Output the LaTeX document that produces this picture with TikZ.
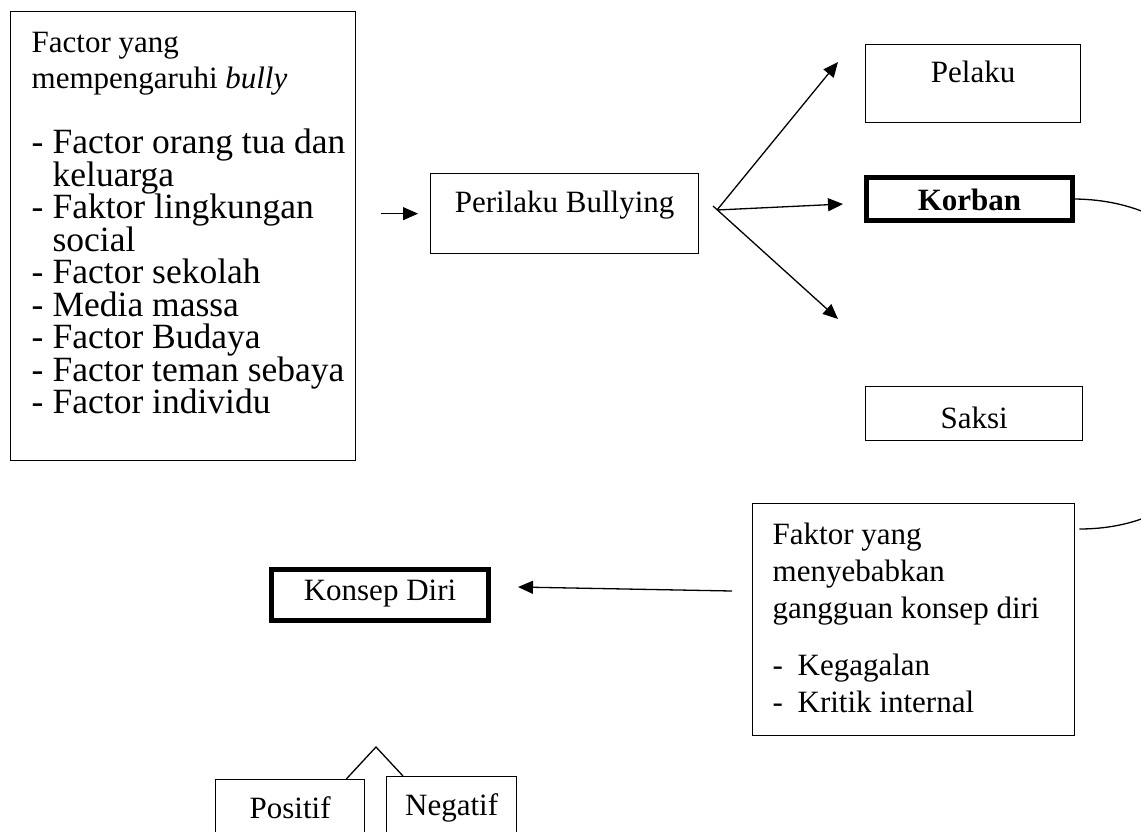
\documentclass[tikz,border=0pt]{standalone}
\usepackage{fontspec}
\setmainfont{Liberation Serif}
\usetikzlibrary{arrows.meta,calc}

\begin{document}
\begin{tikzpicture}[x=1pt,y=-1pt,>={Triangle[length=15pt,width=13pt]},line width=1.3pt,
  every node/.style={font=\fontsize{31}{37}\selectfont}]
\tikzstyle{box}=[draw=black,line width=1.3pt,inner sep=0pt,anchor=north west,align=center]
\tikzstyle{thickbox}=[box,line width=5pt]
\tikzstyle{arrow}=[->,line width=1.3pt]
\useasboundingbox (0,0) rectangle (1141,831);
\clip (0,0) rectangle (1141,831);

% left list of factors
\node[box] (pengaruh) at (10,11) {\parbox[t][449pt][t]{345pt}{\leftskip=21pt
  \baselineskip=36pt
  \rule{0pt}{41pt}Factor yang\\
  mempengaruhi \textit{bully}\par
  \vspace{32.5pt}
  \fontsize{35.5}{32.5}\selectfont
  \makebox[21pt][l]{-}Factor orang tua dan\\
  \hspace*{21pt}keluarga\\
  \makebox[21pt][l]{-}Faktor lingkungan\\
  \hspace*{21pt}social\\
  \makebox[21pt][l]{-}Factor sekolah\\
  \makebox[21pt][l]{-}Media massa\\
  \makebox[21pt][l]{-}Factor Budaya\\
  \makebox[21pt][l]{-}Factor teman sebaya\\
  \makebox[21pt][l]{-}Factor individu\par}};

\node[box,minimum width=268pt,text height=39pt,text depth=41pt] (perilaku) at (430,173) {Perilaku Bullying};

% roles
\node[box,minimum width=215pt,text height=38pt,text depth=40pt] (pelaku) at (865,44) {Pelaku};
\node[thickbox,minimum width=206pt,text height=32.5pt,text depth=10.5pt] (korban) at (864,175) {\textbf{Korban}};
\node[box,minimum width=217pt,text height=42pt,text depth=12pt] (saksi) at (865,386) {Saksi};

% causes of disturbed self concept
\node[box] (gangguan) at (752,503) {\parbox[t][232pt][t]{322pt}{\leftskip=20pt
  \baselineskip=37pt
  \rule{0pt}{41pt}Faktor yang\\
  menyebabkan\\
  gangguan konsep diri\par
  \vspace{20pt}
  \makebox[25pt][l]{-}Kegagalan\\
  \makebox[25pt][l]{-}Kritik internal\par}};

\node[thickbox,minimum width=217pt,text height=30.5pt,text depth=20.5pt] (konsep) at (269,567) {Konsep Diri};

\node[box,minimum width=149pt,text height=39pt,text depth=40pt] (positif) at (215,779) {Positif};
\node[box,minimum width=130pt,text height=39pt,text depth=40pt] (negatif) at (386,776) {Negatif};

% arrows
\coordinate (fan) at (717,210);
\coordinate (fanstub) at (713,206);
\coordinate (toPelaku) at (838,62);
\coordinate (toKorban) at (843,204);
\coordinate (toSaksi) at (838,319);
\coordinate (fromGangguan) at (732,591);
\coordinate (toKonsep) at (518,587);
\coordinate (apex) at (376,747);

\draw[arrow,shorten <=25pt,shorten >=12pt] (perilaku.west -| pengaruh.east) -- (perilaku.west);
\draw[arrow] (fan) -- (toPelaku);
\draw[arrow] (fan) -- (toKorban);
\draw[arrow] (fanstub) -- (toSaksi);
\draw[arrow] (fromGangguan) -- (toKonsep);
\draw (korban.east) .. controls (1300,202) and (1300,529) .. ($(gangguan.north east)+(4,26)$);
\draw ($(positif.north east)+(-19,0)$) -- (apex) -- ($(negatif.north west)+(17,0)$);
\end{tikzpicture}
\end{document}
